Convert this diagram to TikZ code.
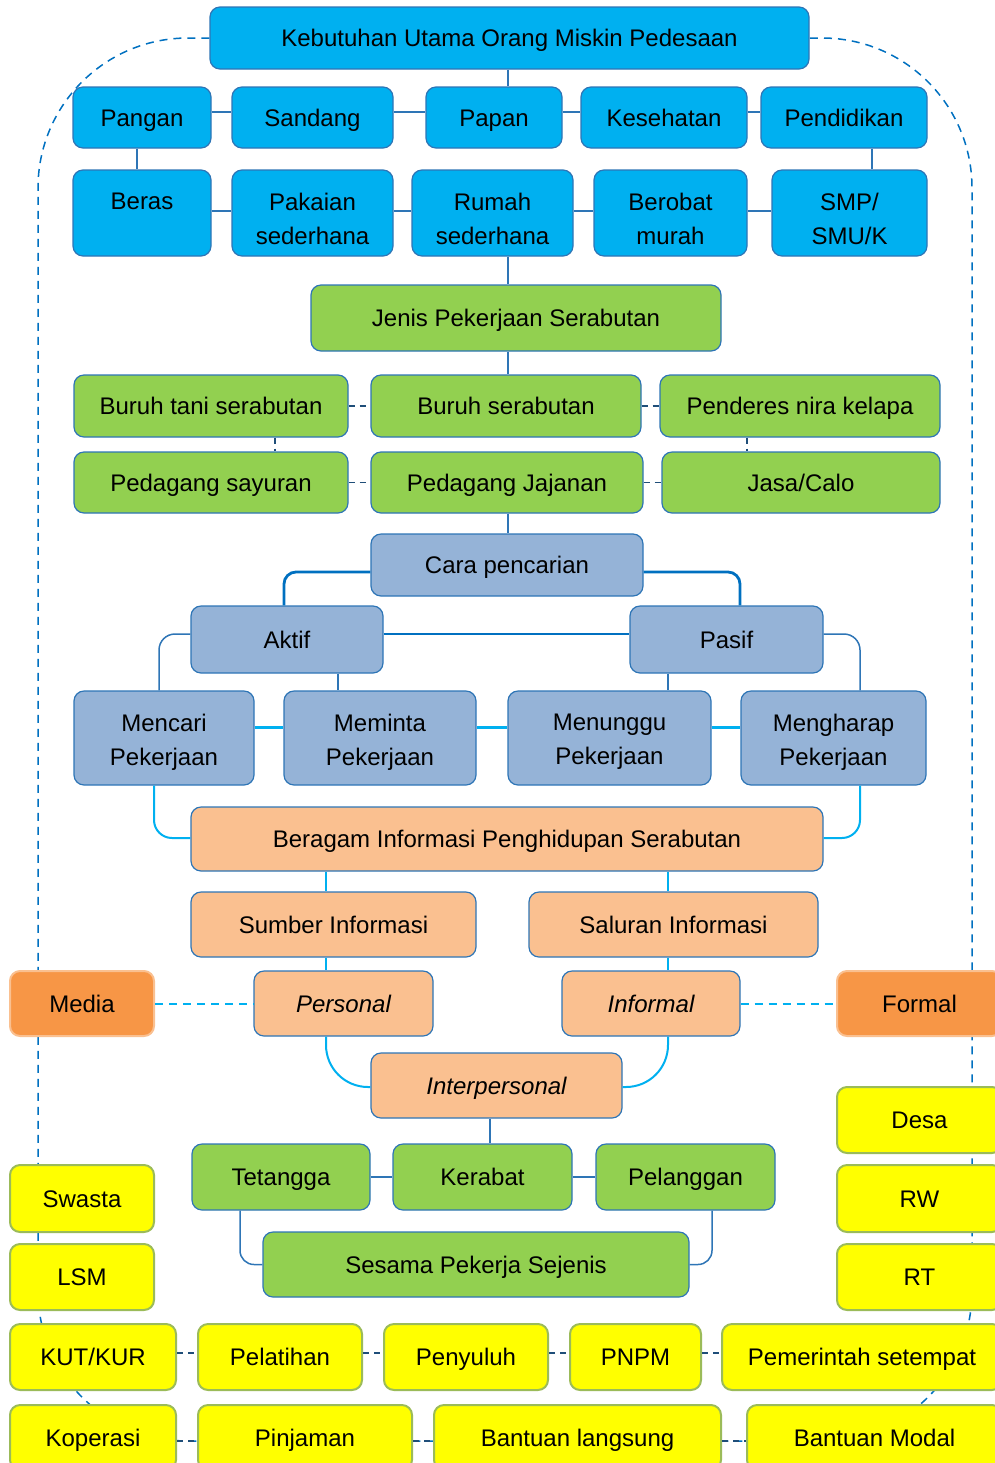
\documentclass[tikz,border=0pt]{standalone}
\usepackage{fontspec}
\setmainfont{Liberation Sans}
\usetikzlibrary{calc}
\definecolor{cyanf}{HTML}{00B0F0}
\definecolor{bord}{HTML}{2E75B6}
\definecolor{greenf}{HTML}{92D050}
\definecolor{grayb}{HTML}{95B3D7}
\definecolor{peach}{HTML}{FAC090}
\definecolor{orangef}{HTML}{F79646}
\definecolor{yellowf}{HTML}{FFFF00}
\definecolor{olive}{HTML}{9BBB59}
\definecolor{strong}{HTML}{0070C0}
\definecolor{navy}{HTML}{1F4E79}
\newcommand{\BX}[7]{\node[#2,minimum width={(#5-#3)*0.5pt},minimum height={(#6-#4)*0.5pt}] (#1) at ({(#3+#5)/2},{(#4+#6)/2}) {#7};}
\newcommand{\tstrut}{\rule[-3.4pt]{0pt}{15.4pt}}
\tikzset{
  txt/.style={inner sep=0pt, align=center, font=\fontsize{12}{17}\selectfont, execute at begin node=\tstrut, execute at end node=\tstrut},
  box/.style={txt, rectangle, rounded corners=5pt, line width=0.6pt},
  bluebox/.style={box, fill=cyanf, draw=bord},
  greenbox/.style={box, fill=greenf, draw=bord},
  graybox/.style={box, fill=grayb, draw=bord},
  peachbox/.style={box, fill=peach, draw=bord},
  orangebox/.style={box, fill=orangef, draw=peach, line width=1pt},
  yellowbox/.style={box, fill=yellowf, draw=olive, line width=1pt},
  conn/.style={draw=bord, line width=0.75pt},
  thick conn/.style={draw=strong, line width=1.4pt},
  mid conn/.style={draw=bord, line width=1.3pt},
  cyan conn/.style={draw=cyanf, line width=1pt},
  cyan thick/.style={draw=cyanf, line width=1.5pt},
  dash conn/.style={draw=navy, line width=0.9pt, dash pattern=on 3pt off 2.5pt},
  cyan dash/.style={draw=cyanf, line width=1pt, dash pattern=on 4pt off 3pt},
  loopline/.style={draw=strong, line width=0.75pt, dash pattern=on 4pt off 3pt}
}
\begin{document}
\begin{tikzpicture}[x=0.5pt,y=-0.5pt]
\useasboundingbox (0,0) rectangle (995,1463);
\clip (0,0) rectangle (995,1463);
% helper coordinates
\coordinate (x137) at (137,0);
\coordinate (x872) at (872,0);
\coordinate (x508) at (508,0);
\coordinate (x275) at (275,0);
\coordinate (x747) at (747,0);
\coordinate (x284) at (284,0);
\coordinate (x740) at (740,0);
\coordinate (x159) at (159,0);
\coordinate (x338) at (338,0);
\coordinate (x668) at (668,0);
\coordinate (x860) at (860,0);
\coordinate (x154) at (154,0);
\coordinate (x326) at (326,0);
\coordinate (x490) at (490,0);
\coordinate (x240) at (240,0);
\coordinate (x712) at (712,0);
\coordinate (y112) at (0,112);
\coordinate (y211) at (0,211);
\coordinate (y572) at (0,572);
\coordinate (y634) at (0,634);
\coordinate (y727) at (0,727);
\coordinate (y838) at (0,838);
\coordinate (y1087) at (0,1087);
\coordinate (y1353) at (0,1353);
\coordinate (y1441) at (0,1441);

\BX{keb}{bluebox}{210}{7}{809}{69}{Kebutuhan Utama Orang Miskin Pedesaan}

% big dashed loop (behind the other boxes)
\draw[loopline] (keb.west) -- (188,38) arc[start angle=90,end angle=180,radius=75pt]
  -- (38,1291) arc[start angle=180,end angle=270,radius=75pt]
  -- (822,1441) arc[start angle=270,end angle=360,radius=75pt]
  -- (972,188) arc[start angle=0,end angle=90,radius=75pt] -- (keb.east);

% boxes
\BX{pangan}{bluebox}{73}{87}{211}{148}{Pangan}
\BX{sandang}{bluebox}{232}{87}{393}{148}{Sandang}
\BX{papan}{bluebox}{426}{87}{562}{148}{Papan}
\BX{kes}{bluebox}{581}{87}{747}{148}{Kesehatan}
\BX{pend}{bluebox}{761}{87}{927}{148}{Pendidikan}
\BX{beras}{bluebox}{73}{170}{211}{256}{}
\BX{pakaian}{bluebox}{232}{170}{393}{256}{}
\BX{rumah}{bluebox}{412}{170}{573}{256}{}
\BX{berobat}{bluebox}{594}{170}{747}{256}{}
\BX{smp}{bluebox}{772}{170}{927}{256}{}
\node[txt] (beras-t) at ([yshift=-4.5pt]beras.center) {Beras\\\mbox{}};
\node[txt] (pakaian-t) at ([yshift=-4.5pt]pakaian.center) {Pakaian\\sederhana};
\node[txt] (rumah-t) at ([yshift=-4.5pt]rumah.center) {Rumah\\sederhana};
\node[txt] (berobat-t) at ([yshift=-4.5pt]berobat.center) {Berobat\\murah};
\node[txt] (smp-t) at ([yshift=-4.5pt]smp.center) {SMP/\\SMU/K};

\BX{jenis}{greenbox}{311}{285}{721}{351}{Jenis Pekerjaan Serabutan}
\BX{btani}{greenbox}{74}{375}{348}{437}{Buruh tani serabutan}
\BX{bser}{greenbox}{371}{375}{641}{437}{Buruh serabutan}
\BX{penderes}{greenbox}{660}{375}{940}{437}{Penderes nira kelapa}
\BX{psay}{greenbox}{74}{452}{348}{513}{Pedagang sayuran}
\BX{pjaj}{greenbox}{371}{452}{643}{513}{Pedagang Jajanan}
\BX{jasa}{greenbox}{662}{452}{940}{513}{Jasa/Calo}

\BX{cara}{graybox}{371}{534}{643}{596}{Cara pencarian}
\BX{aktif}{graybox}{191}{606}{383}{673}{Aktif}
\BX{pasif}{graybox}{630}{606}{823}{673}{Pasif}
\BX{mencari}{graybox}{74}{691}{254}{785}{}
\BX{meminta}{graybox}{284}{691}{476}{785}{}
\BX{menunggu}{graybox}{508}{691}{711}{785}{}
\BX{mengharap}{graybox}{741}{691}{926}{785}{}
\node[txt] (mencari-t) at ([yshift=-2.5pt]mencari.center) {Mencari\\Pekerjaan};
\node[txt] (meminta-t) at ([yshift=-2.5pt]meminta.center) {Meminta\\Pekerjaan};
\node[txt] (menunggu-t) at ([yshift=-2.5pt]menunggu.center) {Menunggu\\Pekerjaan};
\node[txt] (mengharap-t) at ([yshift=-2.5pt]mengharap.center) {Mengharap\\Pekerjaan};

\BX{beragam}{peachbox}{191}{807}{823}{871}{Beragam Informasi Penghidupan Serabutan}
\BX{sumber}{peachbox}{191}{892}{476}{957}{Sumber Informasi}
\BX{saluran}{peachbox}{529}{892}{818}{957}{Saluran Informasi}
\BX{personal}{peachbox}{254}{971}{433}{1036}{\itshape Personal}
\BX{informal}{peachbox}{562}{971}{740}{1036}{\itshape Informal}
\BX{interp}{peachbox}{371}{1053}{622}{1118}{\itshape Interpersonal}
\BX{media}{orangebox}{10}{971}{154}{1036}{Media}
\BX{formal}{orangebox}{837}{971}{1002}{1036}{Formal}

\BX{tetangga}{greenbox}{192}{1144}{370}{1210}{Tetangga}
\BX{kerabat}{greenbox}{393}{1144}{572}{1210}{Kerabat}
\BX{pelanggan}{greenbox}{596}{1144}{775}{1210}{Pelanggan}
\BX{sesama}{greenbox}{263}{1232}{689}{1297}{Sesama Pekerja Sejenis}

\BX{desa}{yellowbox}{837}{1087}{1002}{1153}{Desa}
\BX{rw}{yellowbox}{837}{1165}{1002}{1232}{RW}
\BX{rt}{yellowbox}{837}{1244}{1002}{1310}{RT}
\BX{swasta}{yellowbox}{10}{1165}{154}{1232}{Swasta}
\BX{lsm}{yellowbox}{10}{1244}{154}{1310}{LSM}
\BX{kut}{yellowbox}{10}{1324}{176}{1390}{KUT/KUR}
\BX{pelatihan}{yellowbox}{198}{1324}{362}{1390}{Pelatihan}
\BX{penyuluh}{yellowbox}{384}{1324}{548}{1390}{Penyuluh}
\BX{pnpm}{yellowbox}{570}{1324}{701}{1390}{PNPM}
\BX{pemerintah}{yellowbox}{722}{1324}{1002}{1390}{Pemerintah setempat}
\BX{koperasi}{yellowbox}{10}{1405}{176}{1470}{Koperasi}
\BX{pinjaman}{yellowbox}{198}{1405}{412}{1470}{Pinjaman}
\BX{bantlang}{yellowbox}{434}{1405}{721}{1470}{Bantuan langsung}
\BX{bantmod}{yellowbox}{747}{1405}{1002}{1470}{Bantuan Modal}

% top connectors
\draw[conn] (keb.south -| x508) -- (papan.north -| x508);
\draw[conn] (pangan.east |- y112) -- (sandang.west |- y112);
\draw[conn] (sandang.east |- y112) -- (papan.west |- y112);
\draw[conn] (papan.east |- y112) -- (kes.west |- y112);
\draw[conn] (kes.east |- y112) -- (pend.west |- y112);
\draw[conn] (pangan.south -| x137) -- (beras.north -| x137);
\draw[conn] (pend.south -| x872) -- (smp.north -| x872);
\draw[conn] (beras.east |- y211) -- (pakaian.west |- y211);
\draw[conn] (pakaian.east |- y211) -- (rumah.west |- y211);
\draw[conn] (rumah.east |- y211) -- (berobat.west |- y211);
\draw[conn] (berobat.east |- y211) -- (smp.west |- y211);
\draw[conn] (rumah.south -| x508) -- (jenis.north -| x508);

% green connectors
\draw[conn] (jenis.south -| x508) -- (bser.north -| x508);
\draw[dash conn] (btani.east) -- (bser.west);
\draw[dash conn] (bser.east) -- (penderes.west);
\draw[dash conn] (psay.east) -- (pjaj.west);
\draw[dash conn] (pjaj.east) -- (jasa.west);
\draw[dash conn] (btani.south -| x275) -- (psay.north -| x275);
\draw[dash conn] (penderes.south -| x747) -- (jasa.north -| x747);
\draw[conn] (pjaj.south -| x508) -- (cara.north -| x508);

% gray connectors
\draw[thick conn, rounded corners=6pt] (cara.west |- y572) -| (aktif.north -| x284);
\draw[thick conn, rounded corners=6pt] (cara.east |- y572) -| (pasif.north -| x740);
\draw[thick conn] (aktif.east |- y634) -- (pasif.west |- y634);
\draw[conn, rounded corners=8pt] (aktif.west |- y634) -| (mencari.north -| x159);
\draw[conn, rounded corners=8pt] (pasif.east |- y634) -| (mengharap.north -| x860);
\draw[conn] (aktif.south -| x338) -- (meminta.north -| x338);
\draw[conn] (pasif.south -| x668) -- (menunggu.north -| x668);
\draw[cyan thick] (mencari.east |- y727) -- (meminta.west |- y727);
\draw[cyan thick] (meminta.east |- y727) -- (menunggu.west |- y727);
\draw[cyan thick] (menunggu.east |- y727) -- (mengharap.west |- y727);
\draw[cyan conn, rounded corners=9pt] (mencari.south -| x154) |- (beragam.west |- y838);
\draw[cyan conn, rounded corners=9pt] (mengharap.south -| x860) |- (beragam.east |- y838);

% peach connectors
\draw[cyan conn] (beragam.south -| x326) -- (sumber.north -| x326);
\draw[cyan conn] (beragam.south -| x668) -- (saluran.north -| x668);
\draw[cyan conn] (sumber.south -| x326) -- (personal.north -| x326);
\draw[cyan conn] (saluran.south -| x668) -- (informal.north -| x668);
\draw[cyan conn, rounded corners=21pt] (personal.south -| x326) |- (interp.west |- y1087);
\draw[cyan conn, rounded corners=21pt] (informal.south -| x668) |- (interp.east |- y1087);
\draw[cyan dash] (media.east) -- (personal.west);
\draw[cyan dash] (informal.east) -- (formal.west);

% bottom green connectors
\draw[conn] (interp.south -| x490) -- (kerabat.north -| x490);
\draw[mid conn] (tetangga.east) -- (kerabat.west);
\draw[mid conn] (kerabat.east) -- (pelanggan.west);
\draw[conn, rounded corners=7pt] (tetangga.south -| x240) |- (sesama.west);
\draw[conn, rounded corners=7pt] (pelanggan.south -| x712) |- (sesama.east);

% yellow connectors
\draw[dash conn] (kut.east |- y1353) -- (pelatihan.west |- y1353);
\draw[dash conn] (pelatihan.east |- y1353) -- (penyuluh.west |- y1353);
\draw[dash conn] (penyuluh.east |- y1353) -- (pnpm.west |- y1353);
\draw[dash conn] (pnpm.east |- y1353) -- (pemerintah.west |- y1353);
\draw[dash conn] (koperasi.east |- y1441) -- (pinjaman.west |- y1441);
\draw[dash conn] (pinjaman.east |- y1441) -- (bantlang.west |- y1441);
\draw[dash conn] (bantlang.east |- y1441) -- (bantmod.west |- y1441);
\end{tikzpicture}
\end{document}
